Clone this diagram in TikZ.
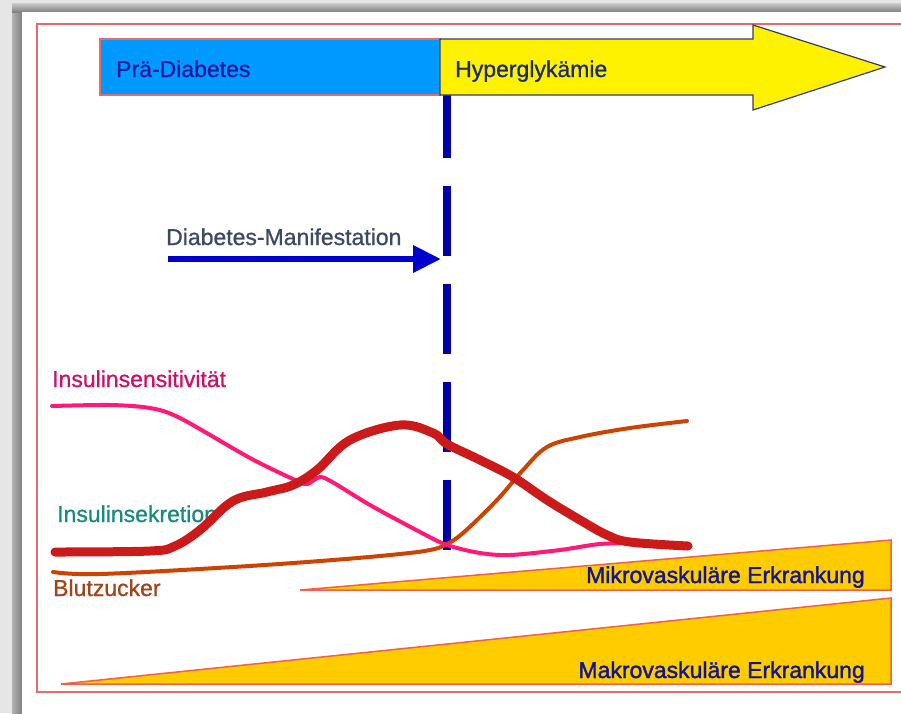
\documentclass[tikz,border=0pt]{standalone}
\usepackage{fontspec}
\setmainfont{Liberation Sans}
\newfontfamily\lblface[FakeBold=0.9]{Liberation Sans}
\newfontfamily\vascface[FakeBold=1.6]{Liberation Sans}
\usetikzlibrary{arrows.meta}
\definecolor{pagebg}{HTML}{E6E6E6}
\definecolor{frame}{HTML}{E86A6A}
\definecolor{skyfill}{HTML}{0099FF}
\definecolor{navytxt}{HTML}{1A1AA0}
\definecolor{hypertxt}{HTML}{1E2A6E}
\definecolor{arrowline}{HTML}{3A3A6A}
\definecolor{dashblue}{HTML}{0000AA}
\definecolor{manitxt}{HTML}{3C4A66}
\definecolor{maniarrow}{HTML}{0000CC}
\definecolor{senscol}{HTML}{FF1A75}
\definecolor{senstxt}{HTML}{CC1166}
\definecolor{secrcol}{HTML}{CC1A1A}
\definecolor{secrtxt}{HTML}{1A8A80}
\definecolor{sugarcol}{HTML}{CC4400}
\definecolor{sugartxt}{HTML}{A0461A}
\definecolor{wedgefill}{HTML}{FFCC00}
\definecolor{wedgeline}{HTML}{F06050}
\definecolor{vasctxt}{HTML}{14148C}
\tikzset{
  lbl/.style={inner sep=0pt, font=\lblface\fontsize{23}{27}\selectfont},
  vlbl/.style={inner sep=0pt, font=\vascface\fontsize{23}{27}\selectfont},
  curve/.style={line cap=round, line join=round},
  wedge/.style={fill=wedgefill, draw=wedgeline, line width=1.5pt, line join=miter}
}
\begin{document}
\begin{tikzpicture}[x=1pt,y=-1pt]
\useasboundingbox (0,0) rectangle (901,713);
% window backdrop and shadow
\fill[pagebg] (0,0) rectangle (901,713);
\shade[left color=black!30, right color=black!50] (12,3) rectangle (22,713);
\shade[top color=black!20, bottom color=black!50] (12,3) rectangle (901,12);
\fill[white] (22,12) rectangle (901,713);
% outer frame
\draw[frame, line width=2pt] (903,24) -- (37,24) -- (37,692) -- (903,692);

% manifestation marker (dashed vertical line)
\coordinate (dtop) at (447,88);
\coordinate (dbot) at (447,551);
\draw[dashblue, line width=8pt, dash pattern=on 70pt off 28pt] (dtop) -- (dbot);

% phase bar: pre-diabetes box
\node[draw=frame, line width=1.5pt, fill=skyfill, minimum width=340pt, minimum height=56pt, inner sep=0pt] (prae) at (270,67) {};
% phase bar: hyperglycaemia arrow
\coordinate (h1) at (440,39);
\coordinate (h2) at (753,39);
\coordinate (h3) at (753,25);
\coordinate (htip) at (885,67);
\coordinate (h4) at (753,110);
\coordinate (h5) at (753,95);
\coordinate (h6) at (440,95);
\draw[arrowline, fill=yellow, line width=1.2pt, line join=miter]
  (h1) -- (h2) -- (h3) -- (htip) -- (h4) -- (h5) -- (h6) -- cycle;
\node[lbl, text=navytxt, anchor=base west] (praetxt) at (116,77) {Prä-Diabetes};
\node[lbl, text=hypertxt, anchor=base west] (hypertxt) at (455,77) {Hyperglykämie};

% manifestation arrow
\node[lbl, text=manitxt, anchor=base west] (mani) at (166,245) {Diabetes-Manifestation};
\coordinate (mstart) at (168,259);
\coordinate (mend) at (441,259);
\draw[maniarrow, line width=6.5pt, -{Triangle[length=28pt,width=26pt]}] (mstart) -- (mend);

% labels of the curves
\node[lbl, text=senstxt, anchor=base west] (senstxt) at (52,387) {Insulinsensitivität};
\node[lbl, text=secrtxt, anchor=base west] (secrtxt) at (57,522) {Insulinsekretion};
\node[lbl, text=sugartxt, anchor=base west] (sugartxt) at (53,596) {Blutzucker};

% blood glucose
\draw[sugarcol, line width=4pt, curve] plot[smooth, tension=0.6] coordinates {
  (53,572) (100,574) (233,567) (333,560) (400,554) (430,550) (445,545)
  (463,533) (497,500) (523,470) (547,447) (580,437) (630,428) (687,421)};
% insulin sensitivity
\draw[senscol, line width=4pt, curve] plot[smooth, tension=0.5] coordinates {
  (52,406) (110,405) (150,408) (180,418) (250,458) (293,479) (307,484)
  (320,477) (334,483) (370,505) (420,532) (447,545) (480,553) (510,555)
  (560,550) (600,544) (640,543)};
% insulin secretion
\draw[secrcol, line width=9pt, curve] plot[smooth, tension=0.6] coordinates {
  (55,552) (150,551) (175,546) (200,530) (233,501) (267,492) (293,485)
  (317,470) (350,440) (400,425) (433,433) (447,444) (480,460) (513,477)
  (547,500) (580,520) (607,535) (630,542) (688,546)};

% microvascular and macrovascular disease wedges
\coordinate (mi1) at (300,590);
\coordinate (mi2) at (891,540);
\coordinate (mi3) at (891,590);
\draw[wedge] (mi1) -- (mi2) -- (mi3) -- cycle;
\coordinate (ma1) at (61,684);
\coordinate (ma2) at (891,598);
\coordinate (ma3) at (891,684);
\draw[wedge] (ma1) -- (ma2) -- (ma3) -- cycle;
\node[vlbl, text=vasctxt, anchor=base east] (mikro) at (865,583) {Mikrovaskuläre Erkrankung};
\node[vlbl, text=vasctxt, anchor=base east] (makro) at (865,678) {Makrovaskuläre Erkrankung};
\end{tikzpicture}
\end{document}
